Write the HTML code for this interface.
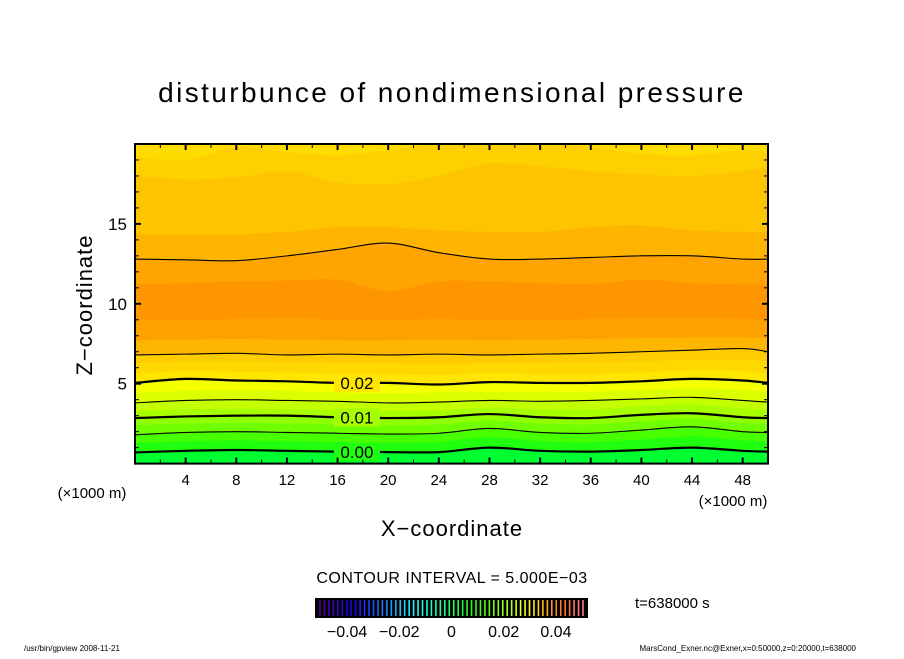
<!DOCTYPE html>
<html><head><meta charset="utf-8"><style>
body{margin:0;background:#fff;width:904px;height:654px;overflow:hidden}
svg text{font-family:"Liberation Sans",sans-serif;fill:#000}
</style></head><body>
<svg id="chart" width="904" height="654" viewBox="0 0 904 654">
<text x="452" y="102" font-size="28" text-anchor="middle" letter-spacing="2.4">disturbunce of nondimensional pressure</text>
<g id="bands"></g>
<g id="lines"></g>
<g id="axes"></g>
<text x="92" y="305" font-size="22" text-anchor="middle" letter-spacing="1" transform="rotate(-90 92 305)">Z−coordinate</text>
<text x="452" y="536" font-size="22" text-anchor="middle" letter-spacing="1">X−coordinate</text>
<text x="92" y="498" font-size="15" text-anchor="middle">(×1000 m)</text>
<text x="733" y="506" font-size="15" text-anchor="middle">(×1000 m)</text>
<text x="452" y="583" font-size="16" text-anchor="middle" letter-spacing="0.5">CONTOUR INTERVAL = 5.000E−03</text>
<text x="635" y="608" font-size="15">t=638000 s</text>
<g id="cbar"></g>
<text x="24" y="651" font-size="8">/usr/bin/gpview   2008-11-21</text>
<text x="856" y="651" font-size="8" text-anchor="end">MarsCond_Exner.nc@Exner,x=0:50000,z=0:20000,t=638000</text>
</svg>
<script>
// data
const xGrid = [0,4,8,12,16,20,24,28,32,36,40,44,48,50];
const boundaries = [
 [0.7,0.8,0.85,0.8,0.75,0.72,0.72,1.0,0.8,0.75,0.85,1.0,0.8,0.75],
 [1.3,1.4,1.45,1.4,1.35,1.3,1.35,1.65,1.4,1.35,1.5,1.7,1.45,1.4],
 [1.8,1.95,2.0,1.95,1.9,1.85,1.9,2.2,1.95,1.9,2.1,2.3,2.0,1.95],
 [2.4,2.5,2.55,2.5,2.45,2.4,2.45,2.7,2.5,2.45,2.65,2.8,2.55,2.5],
 [2.85,2.95,3.0,3.0,2.9,2.85,2.9,3.1,2.9,2.85,3.05,3.15,2.9,2.85],
 [3.3,3.4,3.45,3.4,3.35,3.3,3.35,3.5,3.4,3.4,3.6,3.7,3.45,3.35],
 [3.8,3.95,4.0,3.95,3.9,3.8,3.85,3.95,3.9,3.95,4.05,4.15,3.95,3.85],
 [4.4,4.55,4.6,4.55,4.45,4.4,4.45,4.5,4.45,4.5,4.6,4.7,4.6,4.5],
 [5.05,5.3,5.2,5.15,5.05,5.05,4.95,5.1,5.05,5.05,5.15,5.3,5.2,5.05],
 [5.6,5.8,5.75,5.7,5.6,5.6,5.55,5.65,5.6,5.6,5.7,5.85,5.8,5.6],
 [6.3,6.4,6.4,6.35,6.3,6.3,6.25,6.3,6.3,6.35,6.4,6.5,6.5,6.4],
 [6.8,6.85,6.9,6.8,6.85,6.8,6.85,6.8,6.85,6.9,7.0,7.1,7.2,7.0],
 [7.7,7.75,7.8,7.75,7.7,7.7,7.75,7.7,7.75,7.8,7.85,7.9,7.9,7.85],
 [9.0,9.0,9.05,9.1,9.0,9.0,9.05,9.0,9.0,9.05,9.1,9.1,9.05,9.0],
 [11.2,11.3,11.4,11.45,11.5,10.8,11.4,11.4,11.3,11.25,11.5,11.3,11.2,11.2],
 [12.8,12.75,12.7,13.0,13.4,13.8,13.2,12.8,12.8,12.9,13.0,13.0,12.8,12.8],
 [14.4,14.3,14.35,14.5,14.8,14.8,14.6,14.5,14.5,14.8,14.9,14.6,14.5,14.5],
 [18.0,17.8,17.9,18.3,17.6,17.5,18.0,18.8,18.6,18.3,18.1,18.0,18.3,18.6],
 [19.2,19.0,19.8,19.5,19.3,19.6,20,20,20,19.8,19.4,19.3,19.6,19.5]
];
const bandColors = ["#00ff30","#20ff10","#48ff00","#70ff00","#90ff00","#a8ff00","#c4ff00","#dcff00","#f4ff00","#ffe600","#ffd800","#ffcc00","#ffb600","#ffa200","#ff9600","#ffa400","#ffb400","#ffc400","#ffd000","#ffdc00"];
const contourIdx = [0,2,4,6,8,11,15];
const contourBold = [true,false,true,false,true,false,false];
const contourLabels = ["0.00","","0.01","","0.02","",""];
const xTicks = [4,8,12,16,20,24,28,32,36,40,44,48];
const yTicks = [5,10,15];
const cbarTicks = [-0.04,-0.02,0,0.02,0.04];
const cbarTickLabels = ["−0.04","−0.02","0","0.02","0.04"];

const NS="http://www.w3.org/2000/svg";
const X0=135,X1=768,Y0=463.6,Y1=144;
const sx=v=>X0+(v/50)*(X1-X0);
const sz=v=>Y0-(v/20)*(Y0-Y1);
function mk(tag,attrs,parent){const e=document.createElementNS(NS,tag);for(const k in attrs)e.setAttribute(k,attrs[k]);parent.appendChild(e);return e;}
function pathOf(arr){
  const p=xGrid.map((x,i)=>[sx(x),sz(Math.min(arr[i],20))]);
  let d="M"+p[0][0]+","+p[0][1];
  for(let i=0;i<p.length-1;i++){const a=p[Math.max(0,i-1)],b=p[i],c=p[i+1],e=p[Math.min(p.length-1,i+2)];
    d+=` C${b[0]+(c[0]-a[0])/6},${b[1]+(c[1]-a[1])/6} ${c[0]-(e[0]-b[0])/6},${c[1]-(e[1]-b[1])/6} ${c[0]},${c[1]}`;}
  return d;
}
const bands=document.getElementById('bands');
const bg=mk('rect',{x:X0,y:Y1,width:X1-X0,height:Y0-Y1,fill:bandColors[0]},bands);


boundaries.forEach((b,i)=>{
  const d=pathOf(b)+` L${X1},${Y1} L${X0},${Y1} Z`;
  const el=mk('path',{d:d,fill:bandColors[i+1]},bands);
  
  
});
const lines=document.getElementById('lines');
const lblX=sx(16.5);
contourIdx.forEach((bi,j)=>{
  const el=mk('path',{d:pathOf(boundaries[bi]),fill:'none',stroke:'#000','stroke-width':contourBold[j]?2.2:1.1},lines);
  
  
  if(contourLabels[j]){
    const z=boundaries[bi][4]*0.7+boundaries[bi][5]*0.3;
    const r=mk('rect',{x:lblX-10,y:sz(z)-9,width:46,height:18,fill:bandColors[bi+1]},lines);
    
    
    const t=mk('text',{x:lblX+13,y:sz(z)+6,'font-size':17,'text-anchor':'middle'},lines);
    t.textContent=contourLabels[j];
    
    
  }
});
const axes=document.getElementById('axes');
const fr=mk('rect',{x:X0,y:Y1,width:X1-X0,height:Y0-Y1,fill:'none',stroke:'#000','stroke-width':2},axes);


for(let v=2;v<50;v+=2){const maj=v%4===0,L=maj?6:4;
  mk('line',{x1:sx(v),x2:sx(v),y1:Y0,y2:Y0-L,stroke:'#000','stroke-width':maj?2:1},axes);
  mk('line',{x1:sx(v),x2:sx(v),y1:Y1,y2:Y1+L,stroke:'#000','stroke-width':maj?2:1},axes);}
for(let v=1;v<20;v++){const maj=v%5===0,L=maj?6:4;
  mk('line',{x1:X0,x2:X0+L,y1:sz(v),y2:sz(v),stroke:'#000','stroke-width':maj?2:1},axes);
  mk('line',{x1:X1,x2:X1-L,y1:sz(v),y2:sz(v),stroke:'#000','stroke-width':maj?2:1},axes);}
xTicks.forEach(v=>{const t=mk('text',{x:sx(v),y:485,'font-size':15,'text-anchor':'middle'},axes);t.textContent=v;
  
  });
yTicks.forEach(v=>{const t=mk('text',{x:127,y:sz(v)+6,'font-size':17,'text-anchor':'end'},axes);t.textContent=v;
  
  });
const cb=document.getElementById('cbar');
const CB0=315,CB1=588,CBy=598,CBh=20;
mk('rect',{x:CB0,y:CBy,width:CB1-CB0,height:CBh,fill:'#000'},cb);
const cv=v=>CB0+6+(v+0.05)/0.1*(CB1-CB0-12);
for(let i=0;i<60;i++){const f=i/59;
  let h,l;
  if(f<0.15){h=270-f/0.15*30;l=30+f*150;} else {h=240-(f-0.15)/0.85*240;l=55;}
  if(f>0.9)l=55+(f-0.9)*200;
  const x=CB0+5+f*(CB1-CB0-10);
  mk('line',{x1:x,x2:x,y1:CBy+2,y2:CBy+CBh-2,stroke:`hsl(${h},100%,${l}%)`,'stroke-width':1.6},cb);}
cbarTicks.forEach((v,i)=>{const t=mk('text',{x:cv(v),y:637,'font-size':16,'text-anchor':'middle'},cb);t.textContent=cbarTickLabels[i];
  
  });
</script>
</body></html>
